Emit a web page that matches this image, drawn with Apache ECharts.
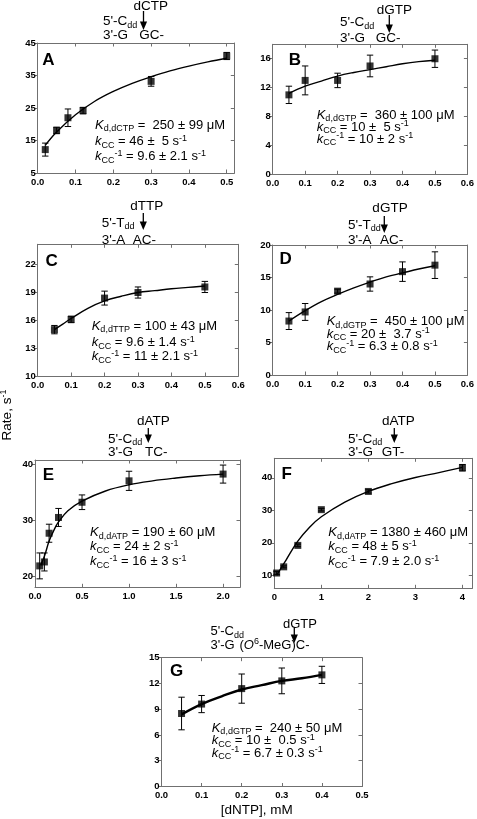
<!DOCTYPE html>
<html><head><meta charset="utf-8">
<script src="https://cdn.jsdelivr.net/npm/echarts@6/dist/echarts.min.js"></script>
<style>html,body{margin:0;padding:0;background:#fff}#c{width:477px;height:819px}</style>
</head><body><div id="c"></div>
<script>
// ---------- data ----------
const xA = [0.02, 0.05, 0.08, 0.12, 0.30, 0.50];
const yA = [12.2, 18.1, 22.0, 24.2, 33.2, 41.0];
const eA = [2.0, 1.0, 2.7, 1.0, 1.5, 1.1];
const fxA = [0.02, 0.05, 0.10, 0.15, 0.20, 0.25, 0.30, 0.35, 0.40, 0.45, 0.50];
const fyA = [13.5, 17.6, 22.9, 27.0, 30.1, 32.6, 34.6, 36.4, 37.9, 39.2, 40.3];

const xB = [0.05, 0.10, 0.20, 0.30, 0.50];
const yB = [11.0, 13.0, 13.0, 15.0, 16.0];
const eB = [1.2, 2.0, 1.0, 1.5, 1.2];
const fxB = [0.05, 0.10, 0.15, 0.20, 0.25, 0.30, 0.35, 0.40, 0.45, 0.50];
const fyB = [11.2, 12.2, 12.9, 13.6, 14.1, 14.5, 14.9, 15.3, 15.6, 15.8];

const xC = [0.05, 0.10, 0.20, 0.30, 0.50];
const yC = [15.0, 16.1, 18.4, 19.0, 19.6];
const eC = [0.45, 0.35, 0.75, 0.6, 0.6];
const fxC = [0.05, 0.075, 0.10, 0.15, 0.20, 0.25, 0.30, 0.35, 0.40, 0.45, 0.50];
const fyC = [15.0, 15.6, 16.2, 17.3, 18.1, 18.6, 19.0, 19.2, 19.4, 19.55, 19.7];

const xD = [0.05, 0.10, 0.20, 0.30, 0.40, 0.50];
const yD = [8.3, 9.7, 12.9, 14.0, 15.9, 16.9];
const eD = [1.3, 1.3, 0.3, 1.1, 1.5, 2.05];
const fxD = [0.05, 0.10, 0.15, 0.20, 0.25, 0.30, 0.35, 0.40, 0.45, 0.50];
const fyD = [8.3, 9.9, 11.3, 12.4, 13.4, 14.3, 15.1, 15.7, 16.3, 16.8];

const xE = [0.05, 0.10, 0.15, 0.25, 0.50, 1.00, 2.00];
const yE = [21.9, 22.6, 27.7, 30.5, 33.2, 37.0, 38.2];
const eE = [2.3, 1.6, 1.6, 1.6, 1.3, 1.7, 1.6];
const fxE = [0.06, 0.10, 0.15, 0.20, 0.25, 0.35, 0.50, 0.75, 1.00, 1.25, 1.50, 1.75, 2.00];
const fyE = [22.0, 23.6, 26.3, 28.2, 29.7, 31.7, 33.4, 35.2, 36.3, 37.0, 37.5, 37.9, 38.2];

const xF = [0.05, 0.20, 0.50, 1.00, 2.00, 4.00];
const yF = [10.7, 12.6, 19.2, 30.2, 35.8, 43.1];
const eF = [0.5, 0.3, 0.4, 0.4, 0.5, 1.0];
const fxF = [0.05, 0.25, 0.50, 0.75, 1.00, 1.50, 2.00, 2.50, 3.00, 3.50, 4.00];
const fyF = [10.0, 14.7, 20.5, 24.8, 28.0, 32.5, 35.8, 38.2, 40.1, 41.6, 43.2];

const xG = [0.05, 0.10, 0.20, 0.30, 0.40];
const yG = [8.5, 9.6, 11.4, 12.3, 13.0];
const eG = [1.9, 1.0, 1.7, 1.5, 1.0];
const fxG = [0.05, 0.10, 0.15, 0.20, 0.25, 0.30, 0.35, 0.40];
const fyG = [8.4, 9.6, 10.5, 11.3, 11.8, 12.3, 12.6, 13.0];

// tick label values
const xTicksA = [0, 0.1, 0.2, 0.3, 0.4, 0.5];
const yTicksA = [5, 15, 25, 35, 45];
const xTicks06 = [0, 0.1, 0.2, 0.3, 0.4, 0.5, 0.6];
const yTicksB = [0, 4, 8, 12, 16];
const yTicksC = [10, 13, 16, 19, 22];
const yTicksD = [0, 5, 10, 15, 20];
const xTicksE = [0, 0.5, 1.0, 1.5, 2.0];
const yTicksE = [20, 30, 40];
const xTicksF = [0, 1, 2, 3, 4];
const yTicksF = [10, 20, 30, 40];
const xTicksG = [0, 0.1, 0.2, 0.3, 0.4, 0.5];
const yTicksG = [0, 3, 6, 9, 12, 15];

// ---------- layout ----------
const FF = '"Liberation Sans", Arial, Helvetica, sans-serif';
const AX = '#707070';
const panels = [
  {rect:[37.7, 43, 196.6, 130], xr:[0, 0.52], xt:xTicksA, xd:1, yr:[5, 45], yt:yTicksA,
   d:[xA, yA, eA, fxA, fyA], lw:1.4},
  {rect:[272.7, 44.3, 203, 130], xr:[0, 0.6], xt:xTicks06, xd:1, yr:[0, 18], yt:yTicksB,
   d:[xB, yB, eB, fxB, fyB], lw:1.4},
  {rect:[37.7, 244.3, 200.6, 131.7], xr:[0, 0.6], xt:xTicks06, xd:1, yr:[10, 24.2], yt:yTicksC,
   d:[xC, yC, eC, fxC, fyC], lw:1.4},
  {rect:[272.7, 245, 203, 130], xr:[0, 0.6], xt:xTicks06, xd:1, yr:[0, 20], yt:yTicksD,
   d:[xD, yD, eD, fxD, fyD], lw:1.4},
  {rect:[35, 460, 205, 127.3], xr:[0, 2.18], xt:xTicksE, xd:1, yr:[18.1, 40.7], yt:yTicksE,
   d:[xE, yE, eE, fxE, fyE], lw:1.4},
  {rect:[274.3, 458.3, 198, 130], xr:[0, 4.21], xt:xTicksF, xd:0, yr:[6, 46], yt:yTicksF,
   d:[xF, yF, eF, fxF, fyF], lw:1.4},
  {rect:[161.5, 657.7, 200.5, 128.8], xr:[0, 0.5], xt:xTicksG, xd:1, yr:[0, 15], yt:yTicksG,
   d:[xG, yG, eG, fxG, fyG], lw:2.4}
];

const grids = [], xAxes = [], yAxes = [], series = [];
const lblStyle = {color:'#000', fontFamily:FF, fontSize:9.5, fontWeight:'bold'};
panels.forEach((p, i) => {
  grids.push({left:p.rect[0], top:p.rect[1], width:p.rect[2], height:p.rect[3], containLabel:false});
  const line = {show:true, onZero:false, lineStyle:{color:AX, width:1}};
  xAxes.push({type:'value', gridIndex:i, position:'bottom', min:p.xr[0], max:p.xr[1],
    axisLine:line, splitLine:{show:false},
    axisTick:{show:true, inside:true, length:3.5, lineStyle:{color:AX}, customValues:p.xt},
    axisLabel:Object.assign({show:true, margin:4, customValues:p.xt,
      formatter:v => v.toFixed(p.xd)}, lblStyle)});
  xAxes.push({type:'value', gridIndex:i, position:'top', min:p.xr[0], max:p.xr[1],
    axisLine:line, splitLine:{show:false},
    axisTick:{show:true, inside:true, length:3.5, lineStyle:{color:AX}, customValues:p.xt},
    axisLabel:{show:false}});
  yAxes.push({type:'value', gridIndex:i, position:'left', min:p.yr[0], max:p.yr[1],
    axisLine:line, splitLine:{show:false},
    axisTick:{show:true, inside:false, length:3, lineStyle:{color:AX}, customValues:p.yt},
    axisLabel:Object.assign({show:true, margin:2, customValues:p.yt,
      formatter:v => String(Math.round(v))}, lblStyle)});
  yAxes.push({type:'value', gridIndex:i, position:'right', min:p.yr[0], max:p.yr[1],
    axisLine:line, splitLine:{show:false},
    axisTick:{show:true, inside:true, length:3.5, lineStyle:{color:AX}, customValues:p.yt},
    axisLabel:{show:false}});
  const [xs, ys, es, fx, fy] = p.d;
  series.push({type:'line', xAxisIndex:2*i, yAxisIndex:2*i, data:fx.map((x, k) => [x, fy[k]]),
    smooth:0.4, showSymbol:false, lineStyle:{color:'#000', width:p.lw}, z:2, silent:true});
  series.push({type:'custom', xAxisIndex:2*i, yAxisIndex:2*i,
    data:xs.map((x, k) => [x, ys[k] - es[k], ys[k] + es[k]]),
    encode:{x:0, y:[1, 2]}, z:3, silent:true,
    renderItem:(params, api) => {
      const x = api.value(0);
      const p1 = api.coord([x, api.value(1)]), p2 = api.coord([x, api.value(2)]);
      const w = 3.2, st = {stroke:'#000', lineWidth:1};
      return {type:'group', children:[
        {type:'line', shape:{x1:p1[0], y1:p1[1], x2:p2[0], y2:p2[1]}, style:st},
        {type:'line', shape:{x1:p1[0]-w, y1:p1[1], x2:p1[0]+w, y2:p1[1]}, style:st},
        {type:'line', shape:{x1:p2[0]-w, y1:p2[1], x2:p2[0]+w, y2:p2[1]}, style:st}
      ]};
    }});
  series.push({type:'scatter', xAxisIndex:2*i, yAxisIndex:2*i, data:xs.map((x, k) => [x, ys[k]]),
    symbol:'rect', symbolSize:7, itemStyle:{color:'#000'}, z:4, silent:true});
});

// ---------- annotations ----------
function rich(fs) {
  const sfs = Math.round(fs * 0.7);
  return {
    n:{fontSize:fs, fontFamily:FF, lineHeight:fs + 3, fill:'#000'},
    i:{fontSize:fs, fontFamily:FF, fontStyle:'italic', lineHeight:fs + 3, fill:'#000'},
    sub:{fontSize:sfs, fontFamily:FF, lineHeight:8, verticalAlign:'bottom', fill:'#000'},
    sup:{fontSize:sfs, fontFamily:FF, lineHeight:8, verticalAlign:'top', fill:'#000'}
  };
}
function T(x, y, text, fs, align, extra) {
  return Object.assign({type:'text', x:x, y:y, z:100, silent:true,
    style:{text:text, rich:rich(fs), fontFamily:FF, fontSize:fs, fill:'#000',
      align:align || 'left', verticalAlign:'middle', textAlign:align || 'left', textVerticalAlign:'middle'}}, extra || {});
}
function B(x, y, text) {
  return {type:'text', x:x, y:y, z:100, silent:true,
    style:{text:text, fontFamily:FF, fontSize:17, fontWeight:'bold', fill:'#000',
      align:'center', verticalAlign:'middle', textAlign:'center', textVerticalAlign:'middle'}};
}
function arrow(x, y1, y2) {
  return [
    {type:'line', z:100, silent:true, shape:{x1:x, y1:y1, x2:x, y2:y2 - 5}, style:{stroke:'#000', lineWidth:1.3}},
    {type:'polygon', z:100, silent:true, shape:{points:[[x - 3.6, y2 - 8.5], [x + 3.6, y2 - 8.5], [x, y2]]}, style:{fill:'#000'}}
  ];
}
const g = [];
const FS = 13;
// DNA context labels
function dna(ds, nt, ntx, nty, ax, ay1, ay2, x5, y5, b5, y3, a3, xr, r3) {
  g.push(T(ntx, nty, '{n|' + nt + '}', ds, 'center'));
  g.push(...arrow(ax, ay1, ay2));
  g.push(T(x5, y5, '{n|5\'-' + b5 + '}{sub|dd}', ds));
  g.push(T(x5, y3, '{n|3\'-' + a3 + '}', ds));
  g.push(T(xr, y3, r3, ds));
}
dna(13.5, 'dCTP', 150.7, 6, 143.5, 11, 30, 103, 21.7, 'C', 35, 'G', 139.3, '{n|GC-}');
dna(13.5, 'dGTP', 394.3, 10, 389.3, 15, 33, 340, 22.7, 'C', 38.3, 'G', 375.7, '{n|GC-}');
dna(13.5, 'dTTP', 146.7, 206.7, 143.3, 213, 230, 101.7, 223, 'T', 240, 'A', 132.7, '{n|AC-}');
dna(13.5, 'dGTP', 390, 208.3, 384.3, 216, 233, 348, 225, 'T', 240, 'A', 380, '{n|AC-}');
dna(13.5, 'dATP', 153.3, 421.7, 148.3, 428, 443, 108, 439, 'C', 452.7, 'G', 145, '{n|TC-}');
dna(13.5, 'dATP', 398.3, 421.7, 394.3, 428, 443, 348, 439, 'C', 452.7, 'G', 381.7, '{n|GT-}');
dna(13, 'dGTP', 300, 624, 294.3, 628, 643, 210.5, 631.7, 'C', 645, 'G', 239.5, '{n|(}{i|O}{sup|6}{n|-MeG)C-}');

// panel letters
[['A', 48.3, 60], ['B', 295, 60], ['C', 51.7, 261.7], ['D', 285.7, 259.3],
 ['E', 48.3, 475], ['F', 286.7, 474], ['G', 176.7, 671.7]].forEach(l => g.push(B(l[1], l[2], l[0])));

// kinetic parameters
function kin(x, ys, nt, kd, kcc, krev) {
  g.push(T(x, ys[0], '{i|K}{sub|d,' + nt + '}{n| = ' + kd + ' μM}', FS));
  g.push(T(x, ys[1], '{i|k}{sub|CC}{n| = ' + kcc + ' s}{sup|-1}', FS));
  g.push(T(x, ys[2], '{i|k}{sub|CC}{sup|-1}{n| = ' + krev + ' s}{sup|-1}', FS));
}
kin(95, [125, 141.7, 156.7], 'dCTP', ' 250 ± 99', '46 ±  5', '9.6 ± 2.1');
kin(316.7, [115, 127.3, 139.3], 'dGTP', ' 360 ± 100', '10 ±  5', '10 ± 2');
kin(91.7, [326, 342.7, 356.7], 'dTTP', '100 ± 43', '9.6 ± 1.4', '11 ± 2.1');
kin(326.7, [321.7, 334, 346.7], 'dGTP', ' 450 ± 100', '20 ±  3.7', '6.3 ± 0.8');
kin(90, [532.7, 546.7, 561.7], 'dATP', '190 ± 60', '24 ± 2', '16 ± 3');
kin(328.3, [532.7, 546.7, 561.7], 'dATP', '1380 ± 460', '48 ± 5', '7.9 ± 2.0');
kin(211.7, [728.3, 740.7, 753.3], 'dGTP', ' 240 ± 50', '10 ±  0.5', '6.7 ± 0.3');

// axis titles
g.push(T(256.7, 810, '{n|[dNTP], mM}', 13.5, 'center'));
g.push(T(7.5, 415, '{n|Rate, s}{sup|-1}', 13.5, 'center', {rotation:Math.PI / 2}));

const chart = echarts.init(document.getElementById('c'), null, {renderer:'canvas'});
chart.setOption({
  animation:false,
  backgroundColor:'#fff',
  grid:grids, xAxis:xAxes, yAxis:yAxes, series:series, graphic:g
});
</script></body></html>
